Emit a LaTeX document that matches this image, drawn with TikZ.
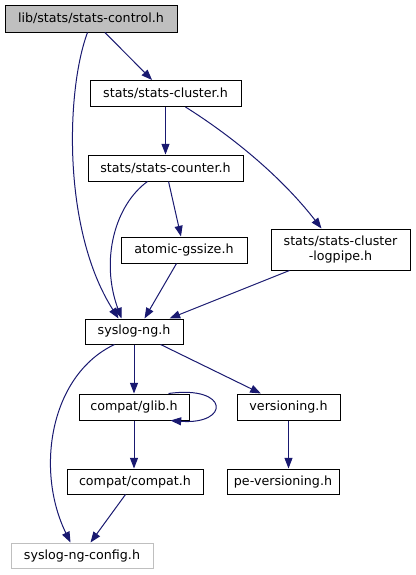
\documentclass[tikz,border=0pt]{standalone}
\usepackage{fontspec}
\setmainfont{DejaVu Sans}
\usetikzlibrary{arrows.meta,calc}
\definecolor{edgeblue}{HTML}{191970}
\definecolor{rootgray}{HTML}{BFBFBF}
\definecolor{lightborder}{HTML}{BFBFBF}
\begin{document}
\begin{tikzpicture}[x=0.75pt,y=-0.75pt,
  box/.style={draw=black, line width=0.75pt, rectangle, inner sep=0pt, align=center,
    font=\fontsize{9.5}{11.5}\selectfont, minimum height=19.5pt},
  edge/.style={draw=edgeblue, line width=0.75pt, -{Triangle[length=8pt,width=6pt]}}]
\useasboundingbox (0,0) rectangle (415,575);
\node[box, fill=rootgray, minimum width=129pt, minimum height=20.25pt] (root) at (91,18.5) {lib/stats/stats-control.h};
\node[box, minimum width=113.25pt] (cluster) at (165.5,93.5) {stats/stats-cluster.h};
\node[box, minimum width=116.25pt] (counter) at (165.5,168) {stats/stats-counter.h};
\node[box, minimum width=94.5pt] (atomic) at (184,250) {atomic-gssize.h};
\node[box, minimum width=104.25pt, minimum height=30.75pt] (logpipe) at (340.5,249.5) {stats/stats-cluster\\-logpipe.h};
\node[box, minimum width=73.5pt, minimum height=18.75pt] (syslog) at (134,331.5) {syslog-ng.h};
\node[box, minimum width=82.5pt] (glib) at (134,407) {compat/glib.h};
\node[box, minimum width=77.25pt] (versioning) at (288.5,407) {versioning.h};
\node[box, minimum width=102pt, minimum height=18.75pt] (compat) at (135,481.5) {compat/compat.h};
\node[box, minimum width=84pt, minimum height=18.75pt] (pe) at (283,481.5) {pe-versioning.h};
\node[box, draw=lightborder, minimum width=106.5pt, minimum height=18.75pt] (config) at (82,555.5) {syslog-ng-config.h};

\draw[edge] (root) -- (cluster);
\draw[edge] ($(root.south west)+(83,0)$) .. controls (66,90) and (62,230) .. ($(syslog.north west)+(34,0)$);
\draw[edge] (cluster) -- (counter);
\draw[edge] ($(cluster.south west)+(96,0)$) .. controls (230,135) and (280,175) .. ($(logpipe.north west)+(51,0)$);
\draw[edge] (counter) -- (atomic);
\draw[edge] ($(counter.south west)+(60,0)$) .. controls (115,205) and (100,260) .. ($(syslog.north west)+(37,0)$);
\draw[edge] ($(atomic.south west)+(56,0)$) -- ($(syslog.north west)+(60,0)$);
\draw[edge] ($(logpipe.south west)+(19,0)$) -- ($(syslog.north west)+(85,0)$);
\draw[edge] (syslog) -- (glib);
\draw[edge] (syslog) -- (versioning);
\draw[edge] ($(syslog.south west)+(30,0)$) .. controls (50,375) and (35,470) .. ($(config.north west)+(60,0)$);
\draw[edge] ($(glib.north east)+(-21,0)$) .. controls (230,385) and (230,425) .. ($(glib.south east)+(-19,0)$);
\draw[edge] (glib) -- (glib |- compat.north);
\draw[edge] (versioning) -- (versioning |- pe.north);
\draw[edge] ($(compat.south west)+(59,0)$) -- ($(config.north west)+(80,0)$);
\end{tikzpicture}
\end{document}
